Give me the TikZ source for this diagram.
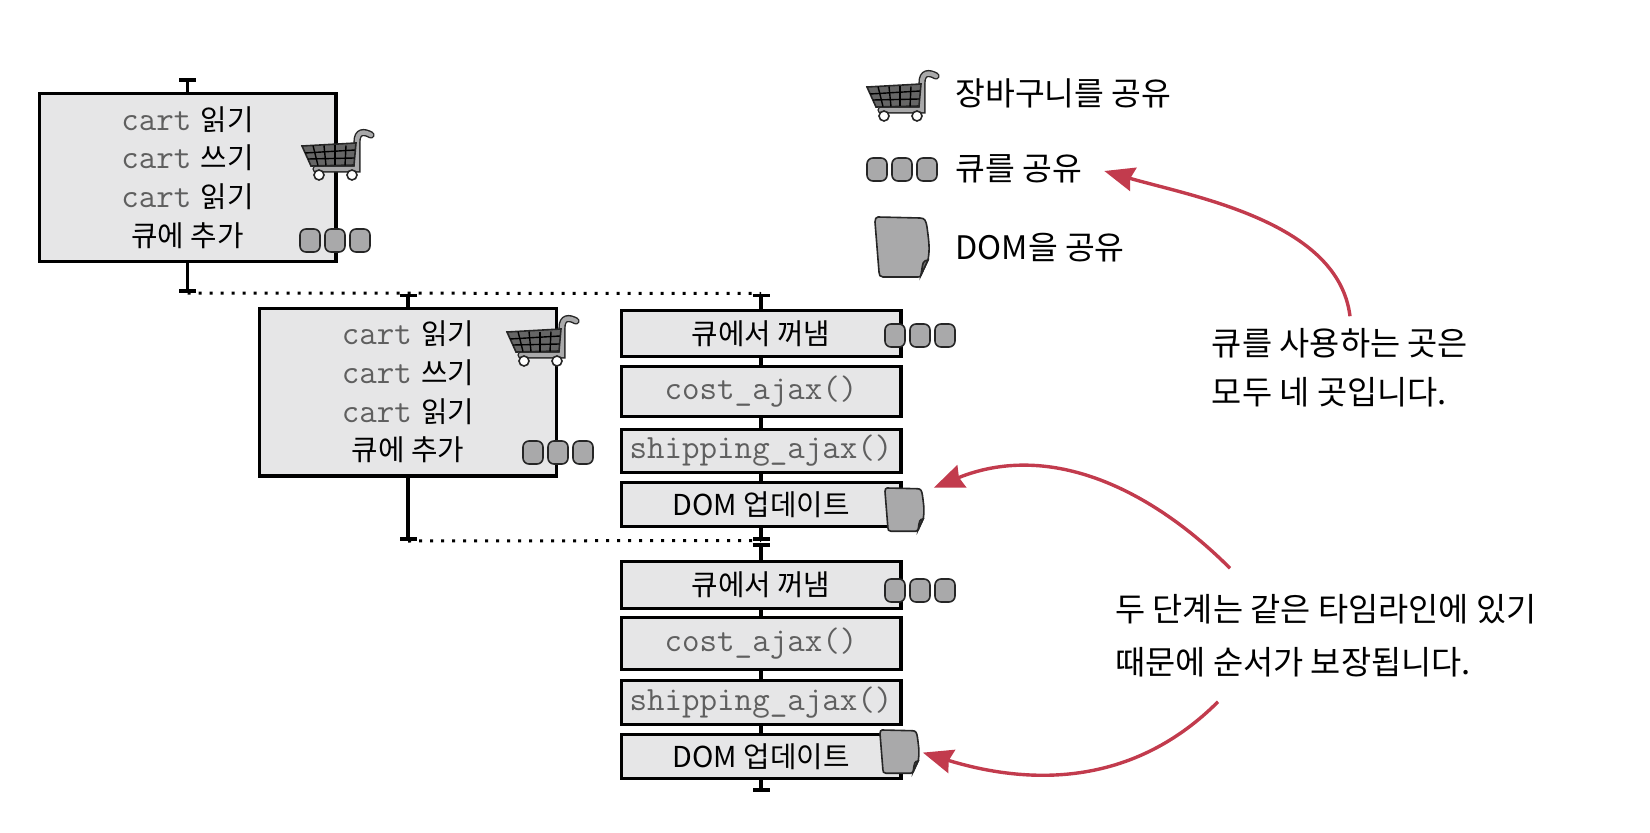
\documentclass[tikz,border=0pt]{standalone}
\usepackage{fontspec}
\setmainfont{Noto Sans CJK KR}
\usepackage{xcolor}
\usetikzlibrary{arrows.meta,positioning}
\definecolor{boxfill}{HTML}{E6E6E7}
\definecolor{iconfill}{HTML}{A9A9AA}
\definecolor{codegray}{HTML}{5F5F5F}
\definecolor{notered}{HTML}{C23B4D}
\newcommand{\code}[1]{{\ttfamily\color{codegray}\fontsize{17}{19}\selectfont #1}}
\newcommand{\cartline}[1]{\code{cart}\hspace{1.5pt} #1}
\newcommand{\callname}[1]{\raisebox{-1pt}{\code{#1}}}

\tikzset{
  icon/.style={draw=black!85, line width=.8pt, fill=iconfill},
  queueicon/.pic={
    \foreach \x in {0,25,50}
      \draw[icon, rounded corners=3pt] (\x,0) rectangle ++(20,-23);
  },
  domicon/.pic={
    \draw[icon] (3,0) -- (45,-1) .. controls (50,-1) and (51,-4) .. (52,-10)
      .. controls (54,-25) and (55,-32) .. (53,-43) -- (46,-58)
      .. controls (45,-60) .. (43,-60) -- (8,-60)
      .. controls (5,-60) and (4,-58) .. (4,-55) -- (0,-5)
      .. controls (0,-2) and (1,0) .. (3,0) -- cycle;
    \draw[icon, fill=black!55] (53,-43) .. controls (48,-44) .. (46,-58) -- cycle;
    \coordinate (-east) at (54,-30);
  },
  carticon/.pic={
    % handle and rail
    \draw[line width=3.6pt, black!85, line cap=round] (14,-41) -- (55,-41) -- (55,-14)
      .. controls (55,-3) and (62,-3) .. (69,-7);
    \draw[line width=2.2pt, iconfill, line cap=round] (14,-41) -- (55,-41) -- (55,-14)
      .. controls (55,-3) and (62,-3) .. (69,-7);
    % basket
    \draw[icon, fill=black!60] (0,-18) -- (54,-15) -- (52,-37) -- (9,-38) -- cycle;
    \foreach \a/\b in {11/16,22/24,33/33,44/43}
      \draw[line width=.7pt] (\a,-17.5) -- (\b,-37.5);
    \draw[line width=.7pt] (3,-25) -- (53,-22);
    \draw[line width=.7pt] (6,-31) -- (52.5,-30);
    % wheels
    \draw[black!85, line width=.8pt, fill=white] (17,-47) circle (5);
    \draw[black!85, line width=.8pt, fill=white] (50,-47) circle (5);
  }
}

\begin{document}
\begin{tikzpicture}[
    x=.5pt, y=.5pt,
    font=\fontsize{14.4}{19.3}\selectfont,
    bigbox/.style={draw, line width=1.7pt, fill=boxfill, align=center, outer sep=0pt,
                   inner sep=0pt, minimum width=148.3pt, minimum height=83.8pt},
    stepbox/.style={draw, line width=1.7pt, fill=boxfill, align=center, outer sep=0pt,
                    inner sep=0pt, minimum width=139.8pt},
    stem/.style={line width=1.7pt},
    ticked/.style={stem, {Bar[width=8.5pt,line width=1.9pt]}-},
    tickend/.style={stem, -{Bar[width=8.5pt,line width=1.9pt]}},
    sync/.style={line width=1.5pt, dash pattern=on 1.5pt off 4pt},
    legend/.style={anchor=west, inner sep=0pt, font=\fontsize{16.2}{20}\selectfont},
    note/.style={align=left, inner sep=0pt},
    redarr/.style={-{Stealth[length=15pt,width=12pt,inset=1.5pt]}, line width=1.7pt, draw=notered}
  ]
  \useasboundingbox (0,0) rectangle (1650,832);

  % first two timelines
  \node[bigbox] (cartA) at (187.5,654.5)
    {\cartline{읽기}\\ \cartline{쓰기}\\ \cartline{읽기}\\ 큐에 추가};
  \node[bigbox] (cartB) at (408,440)
    {\cartline{읽기}\\ \cartline{쓰기}\\ \cartline{읽기}\\ 큐에 추가};

  % queue worker, first run
  \node[stepbox, minimum height=22.8pt] (popA) at (761,498.5) {큐에서 꺼냄};
  \node[stepbox, minimum height=24.8pt, below=5.2pt of popA] (costA) {\callname{cost\_ajax()}};
  \node[stepbox, minimum height=21.3pt, below=6.7pt of costA] (shipA) {\callname{shipping\_ajax()}};
  \node[stepbox, minimum height=21.8pt, below=5.2pt of shipA] (domA) {DOM 업데이트};

  % queue worker, second run
  \node[stepbox, minimum height=23.3pt, below=17.7pt of domA] (popB) {큐에서 꺼냄};
  \node[stepbox, minimum height=25.8pt, below=4.7pt of popB] (costB) {\callname{cost\_ajax()}};
  \node[stepbox, minimum height=21.8pt, below=5.7pt of costB] (shipB) {\callname{shipping\_ajax()}};
  \node[stepbox, minimum height=21.8pt, below=5.2pt of shipB] (domB) {DOM 업데이트};

  % timeline ends
  \coordinate (cartAtop) at (187.5,754);
  \coordinate (cartAend) at (187.5,539);
  \coordinate (cartBtop) at (408,538.5);
  \coordinate (cartBend) at (408,291);
  \coordinate (popAtop) at (761,538.5);
  \coordinate (domAend) at (761,291.5);
  \coordinate (popBtop) at (761,289);
  \coordinate (domBend) at (761,40);

  \draw[ticked] (cartAtop) -- (cartA);
  \draw[tickend] (cartA) -- (cartAend);
  \draw[ticked] (cartBtop) -- (cartB);
  \draw[tickend] (cartB) -- (cartBend);
  \draw[ticked] (popAtop) -- (popA);
  \draw[tickend] (domA) -- (domAend);
  \draw[ticked] (popBtop) -- (popB);
  \draw[tickend] (domB) -- (domBend);
  \foreach \a/\b in {popA/costA,costA/shipA,shipA/domA,popB/costB,costB/shipB,shipB/domB}
    \draw[stem] (\a) -- (\b);

  % dotted sync lines
  \draw[sync] (cartAend) -- (popAtop);
  \draw[sync] (cartBend) -- (domAend);

  % icons on the steps
  \pic (carticonA) at (302,704) {carticon};
  \pic (carticonB) at (507,518) {carticon};
  \pic (queueA) at (300,603) {queueicon};
  \pic (queueB) at (523,391) {queueicon};
  \pic (queueC) at (885,508) {queueicon};
  \pic (queueD) at (885,253) {queueicon};
  \pic[scale=.72] (domiconA) at (885,344) {domicon};
  \pic[scale=.72] (domiconB) at (880,102) {domicon};

  % legend
  \pic (cartkey) at (867,763) {carticon};
  \pic (queuekey) at (867,674) {queueicon};
  \pic (domkey) at (875,615) {domicon};
  \node[legend] (cartlabel) at (955,739) {장바구니를 공유};
  \node[legend] (queuelabel) at (955,663) {큐를 공유};
  \node[legend] (domlabel) at (955,584) {DOM을 공유};

  % notes
  \node[note, font=\fontsize{16.4}{24.5}\selectfont] (noteA) at (1340,464)
    {큐를 사용하는 곳은\\ 모두 네 곳입니다.};
  \node[note, font=\fontsize{16.4}{26.5}\selectfont] (noteB) at (1326,196)
    {두 단계는 같은 타임라인에 있기\\ 때문에 순서가 보장됩니다.};

  \draw[redarr] ([xshift=5pt,yshift=6pt]noteA.north) to[out=97,in=-16,looseness=.85]
    ([xshift=11pt,yshift=-1pt]queuelabel.east);
  \draw[redarr] ([xshift=-48pt,yshift=13pt]noteB.north) to[out=135,in=22]
    ([xshift=5pt,yshift=11pt]domiconA-east);
  \draw[redarr] ([xshift=-54pt,yshift=-12pt]noteB.south) to[out=225,in=-17]
    ([xshift=2pt,yshift=-.5pt]domiconB-east);
\end{tikzpicture}
\end{document}
